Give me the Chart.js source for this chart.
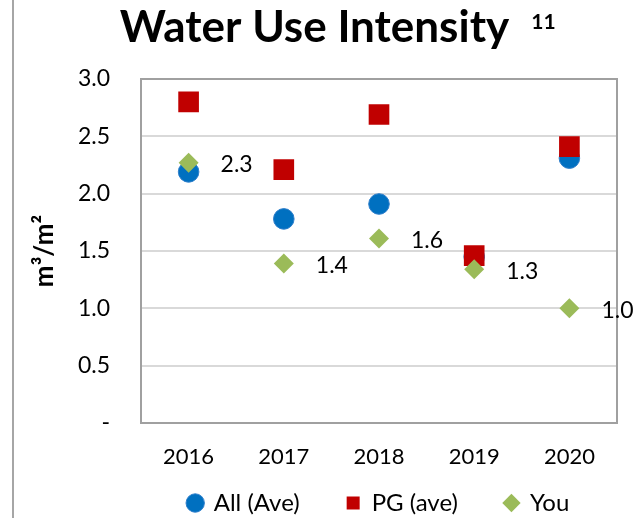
<!DOCTYPE html>
<html>
<head>
<meta charset="utf-8">
<script src="https://cdn.jsdelivr.net/npm/chart.js@4/dist/chart.umd.min.js"></script>
<style>
  html, body { margin: 0; padding: 0; background: #fff; }
  #wrap { width: 644px; height: 518px; position: relative; }
</style>
</head>
<body>
<div id="wrap"><canvas id="c" width="644" height="518"></canvas></div>
<script>
const categories = ['2016', '2017', '2018', '2019', '2020'];
const allAve = [2.19, 1.78, 1.91, 1.45, 2.31];
const pgAve = [2.80, 2.21, 2.69, 1.46, 2.41];
const you = [2.27, 1.39, 1.61, 1.34, 1.00];
const seriesNames = ['All (Ave)', 'PG (ave)', 'You'];
const titleText = 'Water Use Intensity';
const titleNote = '11';
const yTitle = 'm\u00B3/m\u00B2';

const FONT = 'Lato, "Open Sans", sans-serif';
const TITLE_SIZE = 44;

const framePlugin = {
  id: 'frame',
  afterLayout(chart) {
    const t = chart.titleBlock;
    if (t) { t.left += 6; t.right += 6; }
    const lg = chart.legend;
    if (lg) { lg.top -= 27; lg.bottom -= 27; }
  },
  beforeDraw(chart) {
    const ctx = chart.ctx;
    ctx.save();
    ctx.strokeStyle = '#A6A6A6';
    ctx.lineWidth = 2;
    ctx.beginPath();
    ctx.moveTo(13, 0);
    ctx.lineTo(13, chart.height);
    ctx.stroke();
    ctx.restore();
  },
  beforeDatasetsDraw(chart) {
    const a = chart.chartArea;
    const ctx = chart.ctx;
    ctx.save();
    ctx.strokeStyle = '#A0A0A0';
    ctx.lineWidth = 2;
    ctx.strokeRect(a.left, a.top, a.right - a.left, a.bottom - a.top);
    ctx.restore();
  },
  afterDraw(chart) {
    // superscript note after the title
    const t = chart.titleBlock;
    if (!t) return;
    const ctx = chart.ctx;
    ctx.save();
    ctx.font = 'bold ' + TITLE_SIZE + 'px ' + FONT;
    const w = ctx.measureText(titleText).width;
    const right = (t.left + t.right) / 2 + w / 2;
    ctx.font = 'bold 21px ' + FONT;
    ctx.fillStyle = '#000';
    ctx.textAlign = 'left';
    ctx.textBaseline = 'alphabetic';
    ctx.fillText(titleNote, right + 22, 29);
    ctx.restore();
  }
};

const labelPlugin = {
  id: 'youLabels',
  afterDatasetsDraw(chart) {
    const idx = 2;
    const meta = chart.getDatasetMeta(idx);
    const ctx = chart.ctx;
    ctx.save();
    ctx.font = '23px ' + FONT;
    ctx.fillStyle = '#000';
    ctx.textAlign = 'left';
    ctx.textBaseline = 'middle';
    meta.data.forEach((pt, i) => {
      const v = chart.data.datasets[idx].data[i];
      ctx.fillText(v.toFixed(1), pt.x + 32, pt.y + 2);
    });
    ctx.restore();
  }
};

new Chart(document.getElementById('c'), {
  type: 'line',
  data: {
    labels: categories,
    datasets: [
      {
        label: seriesNames[0], data: allAve, showLine: false, order: 3,
        pointStyle: 'circle', pointRadius: 10.3, pointHoverRadius: 10.3,
        backgroundColor: '#0070C0', borderColor: '#2F7FCB', pointBorderWidth: 1
      },
      {
        label: seriesNames[1], data: pgAve, showLine: false, order: 2,
        pointStyle: 'rect', pointRadius: 14.6, pointHoverRadius: 14.6,
        backgroundColor: '#C00000', borderColor: '#C00000', pointBorderWidth: 0
      },
      {
        label: seriesNames[2], data: you, showLine: false, order: 1,
        pointStyle: 'rectRot', pointRadius: 10, pointHoverRadius: 10,
        backgroundColor: '#9BBB59', borderColor: '#9BBB59', pointBorderWidth: 0
      }
    ]
  },
  options: {
    responsive: false,
    animation: false,
    layout: { padding: { left: 0, right: 27, top: 0, bottom: -34 } },
    plugins: {
      tooltip: { enabled: false },
      title: {
        display: true,
        text: titleText,
        color: '#000',
        font: { family: FONT, size: TITLE_SIZE, weight: 'bold', lineHeight: 1.0 },
        padding: { top: 6, bottom: 29 }
      },
      legend: {
        position: 'bottom',
        fullSize: false,
        labels: {
          usePointStyle: true,
          boxWidth: 13,
          boxHeight: 13,
          padding: 47,
          color: '#000',
          font: { family: FONT, size: 24 },
          sort: (a, b) => a.datasetIndex - b.datasetIndex
        }
      }
    },
    scales: {
      x: {
        type: 'category',
        offset: true,
        grid: { display: false, drawTicks: false },
        border: { display: false },
        ticks: { color: '#000', padding: 21, font: { family: FONT, size: 22 } },
        afterFit: (s) => { s.height = 48; }
      },
      y: {
        min: 0, max: 3,
        ticks: {
          stepSize: 0.5, color: '#000', padding: 31,
          font: { family: FONT, size: 23 },
          callback: (v) => v === 0 ? '-' : Number(v).toFixed(1)
        },
        grid: { color: '#D9D9D9', lineWidth: 2, drawTicks: false },
        border: { display: false },
        title: {
          display: true, text: yTitle, color: '#000',
          font: { family: FONT, size: 26, weight: 'bold' },
          padding: { top: 29, bottom: 0 }
        },
        afterFit: (s) => { s.width = 141; }
      }
    }
  },
  plugins: [framePlugin, labelPlugin]
});
</script>
</body>
</html>
